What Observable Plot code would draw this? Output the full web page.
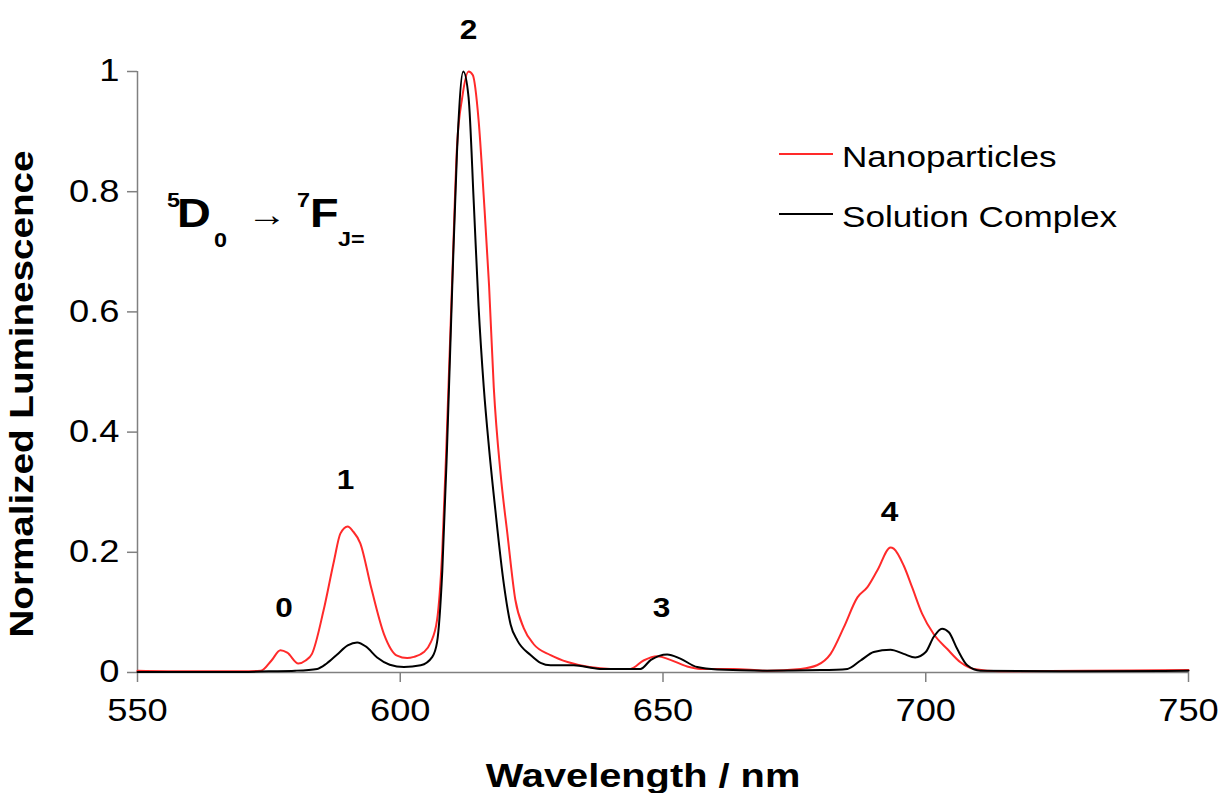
<!DOCTYPE html>
<html><head><meta charset="utf-8">
<script src="https://cdn.jsdelivr.net/npm/d3@7"></script>
<script src="https://cdn.jsdelivr.net/npm/@observablehq/plot@0.6"></script>
<style>body{margin:0;background:#fff}svg{display:block}</style>
</head><body><div id="chart"></div>
<script>
// ---- data ----
const nanoWl = [550,560,570,573.5,575.5,577.2,578.5,580.6,582,583.2,585.4,587.4,588.6,590.0,591,592.4,594.5,596.9,599.4,601.3,602.6,604.5,605.8,607.0,608.0,608.9,609.9,610.8,611.8,613.0,613.8,614.9,615.9,616.9,617.8,619.1,620.4,621.9,623.5,625.4,628.6,632,636,640,643.8,646.3,648.9,651.4,654.6,657.1,663.4,669.8,676.2,679.3,681.9,684.4,687.0,688.9,690.8,693.3,693.9,695.8,697.4,699.3,701.5,704.1,706.6,709.1,714.2,730,750];
const nanoLum = [0.003,0.002,0.002,0.003,0.02,0.037,0.033,0.015,0.02,0.031,0.103,0.186,0.231,0.243,0.235,0.215,0.14,0.064,0.028,0.024,0.026,0.034,0.05,0.087,0.203,0.406,0.658,0.875,0.957,1.0,0.994,0.92,0.79,0.644,0.474,0.33,0.23,0.121,0.074,0.047,0.029,0.017,0.009,0.006,0.006,0.02,0.027,0.021,0.010,0.006,0.006,0.003,0.006,0.012,0.031,0.075,0.125,0.142,0.170,0.208,0.206,0.178,0.142,0.098,0.064,0.039,0.017,0.006,0.002,0.003,0.004];
const solWl = [550,570,575,580,584.2,586,588,590,591.8,593.5,595.6,598,600.7,603.9,606.1,607.0,608.0,608.9,609.9,610.8,612.0,613.0,614.0,614.9,615.9,616.9,618.1,619.7,621.0,622.3,624.8,626.7,628.6,633,638,645.7,647.7,650.8,653.3,656.5,660.3,669.8,680,685.1,687.6,690.1,693.3,695.8,698.0,700.0,701.5,703.1,704.4,706.0,707.9,710.4,730,750];
const solLum = [0.001,0.001,0.002,0.003,0.006,0.015,0.03,0.045,0.050,0.043,0.025,0.013,0.009,0.012,0.026,0.050,0.169,0.373,0.644,0.866,1.0,0.957,0.78,0.61,0.474,0.373,0.27,0.148,0.080,0.053,0.029,0.016,0.012,0.012,0.006,0.006,0.021,0.030,0.023,0.009,0.005,0.003,0.004,0.006,0.02,0.034,0.038,0.031,0.025,0.034,0.059,0.073,0.067,0.039,0.012,0.003,0.002,0.003];
const xTicks = [550,600,650,700,750];
const yTicks = [0,0.2,0.4,0.6,0.8,1];
const peakText = ["0","1","2","3","4"];
const peakWl = [577.9,589.6,613.0,649.7,693.1];
const peakLum = [0.093,0.306,1.054,0.093,0.252];
const seriesNames = ["Nanoparticles","Solution Complex"];
const seriesColors = ["#ff2a2a","#000000"];

const nano = nanoWl.map((w,i)=>({w, v:nanoLum[i]}));
const sol = solWl.map((w,i)=>({w, v:solLum[i]}));
const peaks = peakText.map((t,i)=>({t, w:peakWl[i], v:peakLum[i]}));
const FONT = "Liberation Sans, Arial, sans-serif";

const plot = Plot.plot({
  width: 1225, height: 793,
  marginLeft: 137, marginRight: 37, marginTop: 71, marginBottom: 121,
  style: {fontFamily: FONT, background: "#fff", color: "#000"},
  x: {domain: [550,750]},
  y: {domain: [0,1]},
  marks: [
    Plot.axisX({ticks: xTicks, tickSize: 10, tickPadding: 16, fontSize: 31, stroke: "#808080", strokeWidth: 1.5, fill: "#000", label: null, tickFormat: d => String(d)}),
    Plot.axisY({ticks: yTicks, tickSize: 10, tickPadding: 8, fontSize: 31, stroke: "#808080", strokeWidth: 1.5, fill: "#000", label: null, tickFormat: d => String(d)}),
    Plot.ruleY([0], {stroke: "#808080", strokeWidth: 1.5}),
    Plot.ruleX([550], {stroke: "#808080", strokeWidth: 1.5}),
    Plot.line(nano, {x: "w", y: "v", stroke: seriesColors[0], strokeWidth: 2, curve: "monotone-x"}),
    Plot.line(sol, {x: "w", y: "v", stroke: seriesColors[1], strokeWidth: 2, curve: "monotone-x"}),
    Plot.text(peaks, {x: "w", y: "v", text: "t", fontSize: 27, fontWeight: "bold", textAnchor: "middle", lineAnchor: "bottom", fill: "#000"})
  ]
});
document.getElementById("chart").appendChild(plot);

const svg = d3.select(plot);
const g = svg.append("g").attr("font-family", FONT).attr("fill", "#000").attr("text-anchor", "start");
// axis titles
g.append("text").attr("x", 643).attr("y", 787).attr("text-anchor", "middle")
  .attr("font-size", 34).attr("font-weight", "bold").text("Wavelength / nm");
g.append("text").attr("transform", "translate(33,394) rotate(-90)").attr("text-anchor", "middle")
  .attr("font-size", 33).attr("font-weight", "bold").text("Normalized Luminescence");
// legend
const legY = [154, 214];
seriesNames.forEach((n,i) => {
  g.append("line").attr("x1", 779).attr("x2", 833).attr("y1", legY[i]).attr("y2", legY[i])
    .attr("stroke", seriesColors[i]).attr("stroke-width", 2);
  g.append("text").attr("x", 842).attr("y", legY[i] + 13).attr("text-anchor", "start")
    .attr("font-size", 30).text(n);
});
// transition annotation
const ann = [
  {t:"5", x:167, y:207, s:20, b:true},
  {t:"D", x:177, y:227, s:40, b:true},
  {t:"0", x:214, y:247, s:20, b:true},
  {t:"\u2192", x:247, y:226, s:34, b:false},
  {t:"7", x:297, y:207, s:20, b:true},
  {t:"F", x:310, y:227, s:40, b:true},
  {t:"J=", x:338, y:246, s:20, b:true}
];
ann.forEach(a => g.append("text").attr("x", a.x).attr("y", a.y).attr("text-anchor", "start")
  .attr("font-size", a.s).attr("font-weight", a.b ? "bold" : "normal").text(a.t));

// horizontal stretch of all text to match the reference's wide lettering
const S = 1.17;
svg.selectAll("text").each(function() {
  const L = this.getComputedTextLength();
  if (L > 0) { this.setAttribute("textLength", L * S); this.setAttribute("lengthAdjust", "spacingAndGlyphs"); }
});
</script></body></html>
